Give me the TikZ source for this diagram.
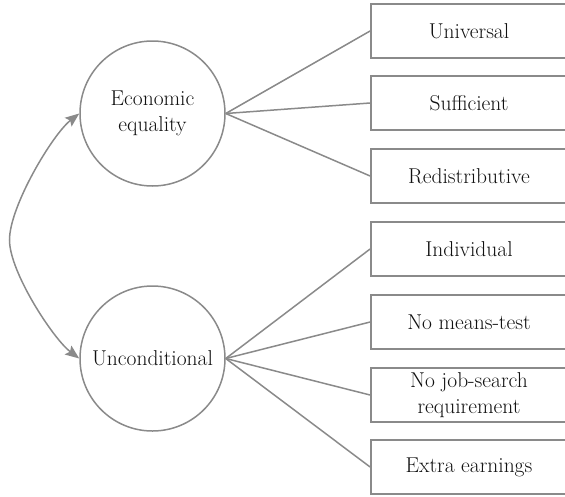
\documentclass[tikz,border=0pt]{standalone}
\usetikzlibrary{arrows.meta}
\definecolor{linegray}{HTML}{8A8A8A}
\definecolor{textc}{HTML}{111111}
\newcommand{\dgfont}{\fontsize{21.5}{26}\selectfont}
\tikzset{grtip/.tip={Stealth[length=14pt,width=11pt,inset=2.5pt]}}
\begin{document}
\begin{tikzpicture}[x=1pt,y=-1pt,
  conn/.style={draw=linegray, line width=1.5pt},
  circ/.style={circle, draw=linegray, line width=1.5pt, minimum size=145pt, inner sep=0pt, align=center, font=\dgfont, text=textc},
  itembox/.style={rectangle, draw=linegray, line width=1.8pt, minimum width=196pt, minimum height=54pt, inner sep=0pt, align=center, font=\dgfont, text=textc}]
\useasboundingbox (0,0) rectangle (565,496);
\node[circ] (econ) at (152.5,113.5) {Economic\\equality};
\node[circ] (uncond) at (152.5,358.5) {Unconditional};
\node[itembox] (b1) at (469,31) {Universal};
\node[itembox] (b2) at (469,103) {Sufficient};
\node[itembox] (b3) at (469,176) {Redistributive};
\node[itembox] (b4) at (469,249) {Individual};
\node[itembox] (b5) at (469,322) {No means-test};
\node[itembox] (b6) at (469,395) {No job-search\\requirement};
\node[itembox] (b7) at (469,467) {Extra earnings};
\foreach \b in {b1,b2,b3} \draw[conn] (econ.east) -- (\b.west);
\foreach \b in {b4,b5,b6,b7} \draw[conn] (uncond.east) -- (\b.west);
\coordinate (lft) at (9.5,240);
\draw[conn, grtip-grtip] (econ.west) to[out=218, in=90, looseness=0.6] (lft) to[out=270, in=143, looseness=0.6] (uncond.west);
\end{tikzpicture}
\end{document}
